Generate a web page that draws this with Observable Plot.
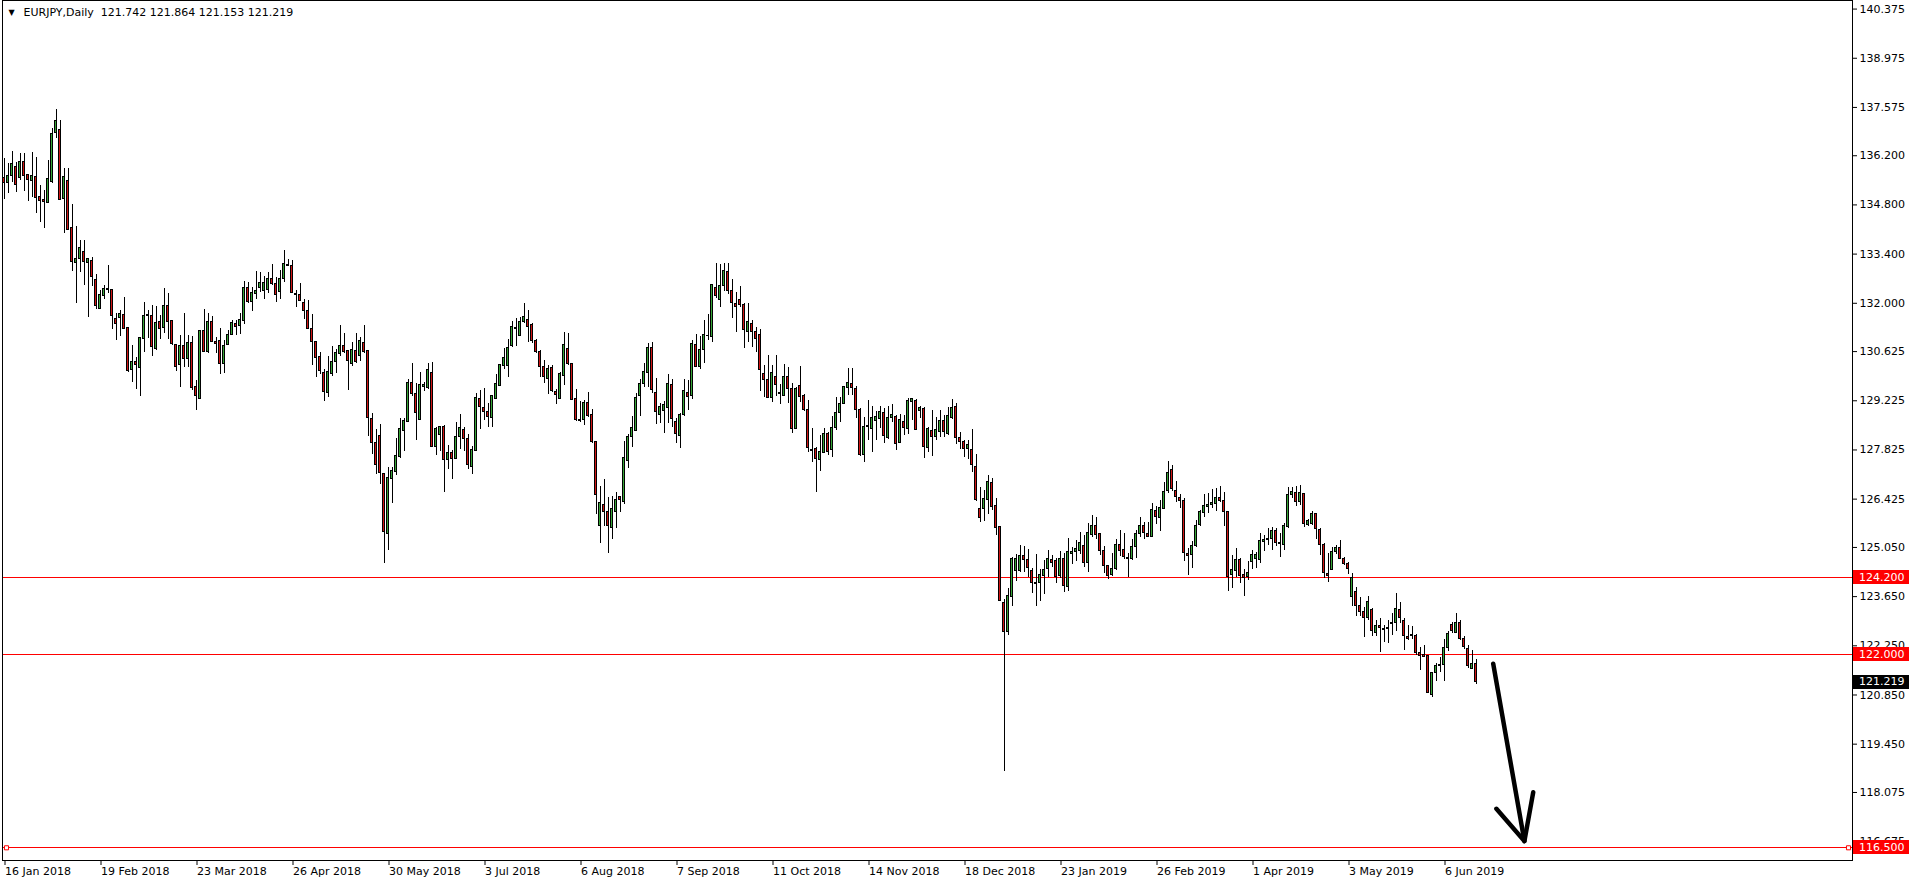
<!DOCTYPE html>
<html><head><meta charset="utf-8">
<script src="https://cdn.jsdelivr.net/npm/d3@7"></script>
<script src="https://cdn.jsdelivr.net/npm/@observablehq/plot@0.6"></script>
<style>html,body{margin:0;padding:0;background:#fff;overflow:hidden}svg{display:block}</style>
</head><body><div id="chart"></div>
<script>
const symbol = "EURJPY", period = "Daily";
const opens = [135.57,135.43,135.63,135.89,135.57,136.01,135.64,135.48,135.60,135.03,134.93,134.85,135.45,136.85,136.94,134.97,135.47,134.13,133.14,133.26,133.47,133.14,133.21,132.67,131.83,132.21,132.38,132.38,131.56,131.58,131.67,131.31,130.11,130.33,130.16,130.99,131.63,131.64,130.69,131.47,131.30,131.93,131.49,130.82,130.25,130.79,130.42,130.87,129.63,129.28,131.22,130.61,131.48,130.91,130.94,130.27,130.82,131.10,131.41,131.35,131.50,132.44,132.05,132.27,132.44,132.36,132.38,132.70,132.55,132.31,132.68,133.09,133.07,132.27,132.24,132.02,131.77,131.26,130.91,130.46,130.02,129.44,129.98,130.33,130.56,130.77,130.64,130.27,130.64,130.50,130.87,130.63,128.71,128.01,128.23,127.14,125.44,127.00,127.20,127.62,128.36,128.62,129.74,129.42,128.69,129.62,129.59,130.02,127.92,128.26,128.48,127.54,127.74,127.56,128.19,128.40,128.14,127.35,127.80,129.28,129.02,128.91,128.74,129.27,129.65,130.22,130.22,130.78,131.28,131.07,131.46,131.53,131.39,130.93,130.62,130.18,129.84,130.16,129.48,129.28,129.93,130.70,130.26,129.28,128.69,128.67,129.17,128.83,128.04,125.66,126.26,126.06,125.61,126.05,126.49,126.35,127.51,128.20,128.37,129.37,129.69,130.01,130.73,129.45,128.83,128.93,129.02,129.68,128.63,128.23,128.82,129.45,129.37,130.82,130.18,130.67,131.07,131.04,132.44,132.10,132.48,132.90,132.35,131.97,132.10,131.94,131.17,131.42,131.17,131.10,129.99,129.82,129.30,129.91,129.42,129.37,129.91,129.56,128.43,129.65,129.35,128.97,127.83,127.86,127.54,127.75,128.28,127.81,128.44,128.88,129.14,129.59,129.71,129.56,128.97,127.69,128.47,128.43,128.65,128.71,128.88,128.16,128.74,128.76,128.03,128.62,128.43,129.19,129.22,128.94,129.00,127.88,128.37,128.18,128.34,128.65,128.28,128.73,129.06,128.17,128.04,127.86,127.81,127.35,126.15,126.15,126.40,126.89,126.24,125.62,123.47,122.64,123.63,124.39,124.37,124.82,124.68,124.39,124.05,124.04,124.24,124.43,124.68,124.65,124.25,124.73,123.92,124.87,124.92,124.94,125.10,124.60,125.41,125.65,125.42,124.95,124.51,124.26,124.45,125.11,124.99,124.74,124.71,125.06,125.42,125.67,125.42,125.36,126.10,125.89,126.14,126.65,127.26,126.67,126.47,126.38,124.86,124.84,125.08,125.68,126.04,126.20,126.26,126.30,126.47,126.38,126.07,124.27,124.39,124.68,124.27,124.20,124.63,124.71,124.68,125.20,125.25,125.29,125.52,125.17,125.13,125.63,126.53,126.61,126.34,126.56,125.68,125.71,125.99,125.56,125.12,124.28,124.41,124.91,125.02,124.73,124.58,123.63,123.79,123.37,123.20,123.04,123.28,122.61,122.82,122.70,122.73,122.88,122.90,123.27,122.96,122.49,122.53,122.53,122.05,121.98,121.95,120.85,121.48,121.67,121.71,122.18,122.83,122.62,122.91,122.45,122.16,121.59,121.742];
const highs = [136.11,135.97,136.32,136.02,136.25,136.25,135.67,136.29,136.14,135.34,135.21,136.06,136.97,137.52,137.20,135.83,135.83,134.81,134.19,133.79,133.78,133.27,133.29,132.82,132.36,132.51,133.07,132.38,131.70,131.79,132.17,131.31,130.80,130.47,131.02,132.03,131.79,131.94,131.91,131.66,132.41,132.29,131.51,130.84,131.08,131.70,131.07,131.05,129.80,131.22,131.81,131.70,131.63,131.02,131.29,130.94,131.22,131.51,131.51,131.70,132.62,132.60,132.46,132.90,132.88,132.76,132.88,133.10,132.73,132.93,133.50,133.26,133.22,132.36,132.55,132.12,132.08,131.68,130.91,130.59,130.11,130.48,130.77,130.68,131.37,131.13,130.67,130.89,131.13,131.02,131.37,130.66,128.87,128.40,128.54,127.14,127.32,127.32,128.14,128.71,128.71,129.82,130.28,129.71,130.04,129.75,130.28,130.32,128.47,128.49,128.51,127.95,127.81,128.60,128.83,128.45,128.26,127.92,129.44,129.52,129.58,129.14,129.37,129.97,130.25,130.72,130.96,131.49,131.56,131.59,131.98,131.79,131.42,130.96,130.67,130.37,130.23,130.23,129.54,130.04,131.17,131.13,130.28,129.55,129.21,129.22,129.45,128.99,128.04,126.78,126.98,126.48,126.50,126.62,126.51,128.07,128.26,128.78,129.42,129.83,130.28,130.86,130.88,129.85,129.16,129.20,129.97,129.84,128.71,128.87,129.82,129.80,130.94,131.11,131.05,131.51,131.68,132.53,133.12,133.10,133.12,133.12,132.67,132.32,132.48,132.00,132.00,131.51,131.30,131.24,130.23,130.51,130.22,130.51,129.69,130.26,130.18,129.73,129.61,130.20,129.40,129.23,128.43,127.90,128.24,128.43,128.33,128.78,129.31,129.33,129.63,130.14,130.14,129.64,129.01,128.76,129.23,129.06,128.92,129.07,129.00,129.06,129.12,128.81,128.82,128.81,129.28,129.28,129.25,129.07,129.02,128.47,128.95,128.76,128.95,128.81,129.04,129.26,129.16,128.33,128.09,128.09,128.40,127.69,126.77,126.67,127.10,127.00,126.43,125.65,123.56,123.87,124.77,124.85,125.11,125.08,124.99,124.44,124.85,124.42,124.68,124.96,124.82,124.73,124.94,124.87,125.30,125.06,125.25,125.48,125.39,125.74,125.96,125.91,125.46,125.08,124.54,124.87,125.27,125.53,125.46,124.87,125.27,125.53,125.91,125.77,125.77,126.29,126.22,126.39,126.91,127.50,127.38,126.93,126.56,126.45,125.01,125.22,125.82,126.10,126.56,126.58,126.70,126.72,126.79,126.62,126.08,124.82,125.01,124.73,124.41,124.65,124.96,124.91,125.46,125.38,125.58,125.61,125.58,125.44,125.74,126.77,126.76,126.79,126.81,126.59,125.84,126.08,126.03,125.60,125.15,124.87,125.06,125.10,125.25,124.77,124.63,124.30,123.92,123.62,123.33,123.64,123.32,122.97,123.02,122.83,122.97,123.16,123.73,123.49,123.02,122.83,122.80,122.57,122.21,122.26,121.97,121.50,121.74,121.93,122.42,122.67,122.92,123.18,122.97,122.51,122.26,122.12,121.864];
const lows = [134.95,135.13,135.45,135.16,135.49,135.19,134.91,135.02,134.55,134.31,134.12,134.83,135.42,136.68,134.93,133.98,134.07,132.91,131.98,132.88,132.51,131.60,132.48,131.83,131.81,132.12,132.27,131.26,130.94,131.06,131.27,130.04,129.75,129.55,129.35,130.60,130.99,130.49,130.66,130.97,131.15,130.96,130.80,130.07,129.59,130.18,130.18,129.53,128.95,129.28,130.59,130.58,130.87,130.58,129.96,129.99,130.79,131.07,131.08,131.10,131.41,132.00,131.77,132.11,132.32,132.10,132.29,132.51,132.03,132.10,132.60,133.05,132.27,131.87,132.06,131.55,131.24,130.23,129.90,129.96,129.21,129.31,129.92,129.99,130.49,130.58,129.52,130.20,130.30,130.35,130.58,128.21,127.70,127.13,126.84,124.60,124.96,126.31,127.10,127.57,127.79,128.61,129.35,128.09,128.66,129.50,129.54,127.90,127.67,127.79,126.62,127.26,126.97,127.54,127.83,127.79,127.26,127.13,127.78,128.41,128.66,128.47,128.47,129.25,129.63,130.11,129.90,130.73,130.78,131.05,131.42,130.89,130.86,130.58,129.88,129.71,129.39,129.47,129.11,129.25,129.65,130.23,129.23,128.64,128.62,128.52,128.76,128.02,126.00,125.15,125.65,124.89,125.27,125.58,126.05,126.27,127.31,127.90,128.35,128.78,129.61,129.59,129.42,128.54,128.57,128.30,128.59,128.47,128.00,127.86,128.79,128.95,129.25,130.16,130.11,130.29,130.94,130.89,132.15,131.89,132.34,132.25,131.58,131.18,131.89,130.70,130.89,130.73,130.59,129.50,129.33,129.28,129.19,129.36,129.11,129.35,129.16,128.30,128.43,129.19,128.93,127.76,127.48,126.62,127.22,127.71,127.67,127.60,128.38,128.62,129.12,129.37,129.37,128.73,127.65,127.48,128.09,127.76,128.09,128.43,128.00,128.12,128.62,127.81,128.00,128.24,128.26,128.66,128.38,128.71,127.59,127.76,127.64,128.08,128.17,128.19,128.25,128.69,127.98,127.84,127.62,127.54,127.19,126.37,125.77,125.80,125.99,126.10,125.39,123.53,118.68,122.55,123.37,124.09,124.35,124.35,124.20,123.75,123.38,123.52,123.71,124.20,124.49,124.03,124.18,123.78,123.81,124.56,124.65,124.85,124.49,124.35,125.34,125.27,124.81,124.32,124.15,124.23,124.39,124.79,124.72,124.20,124.68,124.73,125.34,125.29,125.32,125.34,125.70,125.51,126.12,126.59,126.65,126.34,126.15,124.66,124.25,124.44,125.04,125.65,125.91,126.03,126.15,126.08,126.32,125.65,123.80,123.87,124.20,124.01,123.64,124.11,124.43,124.44,124.60,124.94,125.11,124.96,125.08,124.77,124.96,125.60,126.43,126.22,126.24,125.63,125.65,125.67,125.27,124.82,124.18,124.06,124.39,124.85,124.70,124.54,124.27,123.37,123.08,123.08,122.48,122.97,122.52,122.51,122.07,122.35,122.31,122.54,122.67,122.88,122.12,122.40,122.43,121.97,121.55,121.93,120.88,120.77,121.24,121.50,121.24,122.10,122.61,122.59,122.40,122.14,121.59,121.57,121.153];
const closes = [135.43,135.61,135.97,135.37,136.03,135.63,135.51,135.63,134.99,134.91,134.89,135.54,136.82,137.19,134.95,135.60,134.09,133.17,133.27,133.56,133.18,133.25,132.75,131.92,132.24,132.41,132.41,131.64,131.41,131.70,131.27,130.07,130.33,130.25,131.02,131.64,131.67,130.75,131.45,131.27,131.93,131.47,130.84,130.18,130.79,130.42,130.87,129.59,129.37,131.22,130.61,131.48,130.90,130.84,130.27,130.79,131.10,131.45,131.32,131.53,132.44,132.05,132.30,132.36,132.58,132.58,132.70,132.55,132.24,132.69,133.12,133.06,132.29,132.25,132.07,131.79,131.28,130.90,130.45,130.08,129.47,130.04,130.34,130.58,130.77,130.60,130.35,130.66,130.32,130.94,130.60,128.73,128.03,127.40,127.17,125.48,127.03,127.24,127.66,128.43,128.66,129.74,129.42,128.88,129.68,129.66,130.11,127.92,128.43,128.48,127.54,127.74,127.56,128.20,128.45,128.13,127.40,127.83,129.31,129.04,128.90,128.76,129.37,129.70,130.23,130.43,130.73,131.32,131.30,131.48,131.61,131.32,130.93,130.61,130.18,129.90,130.14,129.51,129.39,129.99,130.80,130.28,129.26,128.68,128.64,129.17,128.79,128.06,126.55,126.32,126.05,125.65,126.15,126.41,126.41,127.60,128.20,128.45,129.31,129.71,130.03,130.73,129.54,128.90,129.06,129.11,129.71,128.71,128.28,128.82,129.51,129.33,130.85,130.20,130.67,131.10,131.08,132.51,132.20,132.50,132.92,132.34,132.01,131.89,131.96,131.24,131.48,131.18,130.98,130.11,129.82,129.30,130.02,129.67,129.44,129.91,129.56,128.43,129.56,129.34,128.97,127.88,127.79,127.57,127.77,128.28,127.77,128.45,128.88,129.14,129.63,129.74,129.58,128.97,127.69,128.49,128.51,128.74,128.77,128.91,128.23,128.74,128.81,128.00,128.68,128.45,129.23,129.27,128.40,129.02,127.90,128.41,128.20,128.40,128.65,128.34,128.78,129.02,128.17,128.04,127.86,127.98,127.40,126.39,125.88,126.43,126.92,126.20,125.61,123.53,122.64,123.67,124.73,124.71,124.82,124.70,124.47,124.03,124.01,124.27,124.41,124.73,124.60,124.20,124.73,123.95,124.92,124.91,125.01,125.19,124.60,125.45,125.67,125.41,124.94,124.52,124.24,124.44,125.13,124.96,124.77,124.72,125.07,125.42,125.67,125.46,125.36,126.12,125.91,126.18,126.64,127.18,126.71,126.48,126.37,124.90,124.82,125.10,125.67,126.07,126.23,126.25,126.32,126.47,126.36,126.05,124.20,124.41,124.68,124.25,124.19,124.33,124.84,124.84,125.24,125.27,125.29,125.52,125.17,125.16,125.67,126.55,126.64,126.35,126.59,125.72,125.79,126.01,125.58,125.12,124.32,124.23,124.93,125.02,124.73,124.58,124.43,124.18,123.38,123.21,123.04,123.51,122.67,122.80,122.76,122.73,122.76,122.90,123.30,123.05,122.52,122.43,122.57,122.04,121.95,121.94,120.90,121.48,121.68,121.70,122.20,122.60,122.67,122.91,122.44,122.23,121.67,121.74,121.219];

const tickBars = [0,24,48,72,96,120,144,168,192,216,240,264,288,312,336,360];
const tickLabels = ["16 Jan 2018","19 Feb 2018","23 Mar 2018","26 Apr 2018","30 May 2018","3 Jul 2018","6 Aug 2018","7 Sep 2018","11 Oct 2018","14 Nov 2018","18 Dec 2018","23 Jan 2019","26 Feb 2019","1 Apr 2019","3 May 2019","6 Jun 2019"];
const priceTicks = [140.375,138.975,137.575,136.200,134.800,133.400,132.000,130.625,129.225,127.825,126.425,125.050,123.650,122.250,120.850,119.450,118.075,116.675];
const levels = [124.200, 122.000, 116.500];
const arrowShaft = [{i: 372.3, p: 121.74}, {i: 380.1, p: 116.69}];
const arrowHead = [{i: 373.1, p: 117.61}, {i: 380.1, p: 116.69}, {i: 382.3, p: 118.08}];

const GREEN = "#37a537", RED = "#d01515", LEVEL = "#ff0000";
const data = opens.map((o, i) => ({i, o, h: highs[i], l: lows[i], c: closes[i]}));
const bulls = data.filter(d => d.c >= d.o), bears = data.filter(d => d.c < d.o);
const last = data[data.length - 1];
const f3 = d3.format(".3f");
const header = `${symbol},${period}  ${f3(last.o)} ${f3(last.h)} ${f3(last.l)} ${f3(last.c)}`;
const FONT = "DejaVu Sans";

const bodyOpts = {x1: d => d.i - 0.375, x2: d => d.i + 0.375, y1: "o", y2: "c", shapeRendering: "crispEdges"};

const chart = Plot.plot({
  width: 1916, height: 884,
  marginTop: 0, marginRight: 64, marginBottom: 24, marginLeft: 2,
  style: {background: "white", fontFamily: FONT, fontSize: "11px", color: "black"},
  x: {domain: [-0.375, 462.125]},
  y: {domain: [116.1385, 140.619]},
  marks: [
    Plot.axisX({ticks: tickBars, tickFormat: d => tickLabels[tickBars.indexOf(d)], tickSize: 5, tickPadding: 2, textAnchor: "start", dx: 1, label: null, fontSize: 11, fontFamily: FONT}),
    Plot.axisY({anchor: "right", ticks: priceTicks, tickFormat: f3, tickSize: 4, tickPadding: 3, label: null, fontSize: 11, fontFamily: FONT}),
    Plot.ruleY(levels, {y: d => d, stroke: LEVEL, strokeWidth: 1, shapeRendering: "crispEdges"}),
    Plot.dot([levels[2]], {y: d => d, frameAnchor: "left", dx: 4, symbol: "square", r: 2.3, stroke: LEVEL, fill: "white", strokeWidth: 1}),
    Plot.dot([levels[2]], {y: d => d, frameAnchor: "right", dx: -4, symbol: "square", r: 2.3, stroke: LEVEL, fill: "white", strokeWidth: 1}),
    Plot.ruleX(data, {x: "i", y1: "l", y2: "h", stroke: "black", strokeWidth: 1, shapeRendering: "crispEdges"}),
    Plot.rect(data, {...bodyOpts, fill: "black", insetTop: -0.5, insetBottom: -0.5}),
    Plot.rect(bulls, {...bodyOpts, fill: GREEN, insetLeft: 1, insetRight: 1, insetTop: 0.5, insetBottom: 0.5}),
    Plot.rect(bears, {...bodyOpts, fill: RED, insetLeft: 1, insetRight: 1, insetTop: 0.5, insetBottom: 0.5}),
    Plot.line(arrowShaft, {x: "i", y: "p", stroke: "black", strokeWidth: 4.5, strokeLinecap: "round"}),
    Plot.line(arrowHead, {x: "i", y: "p", stroke: "black", strokeWidth: 4.5, strokeLinecap: "round", strokeLinejoin: "round"}),
    Plot.text(["\u25BC"], {frameAnchor: "top-left", dx: 6, dy: 12, textAnchor: "start", lineAnchor: "middle", fontSize: 8, fill: "black"}),
    Plot.text([header], {frameAnchor: "top-left", dx: 21, dy: 12, textAnchor: "start", lineAnchor: "middle", fontSize: 11, fontFamily: FONT, fill: "black"}),
    Plot.frame({stroke: "black"})
  ]
});
document.getElementById("chart").appendChild(chart);

// price label boxes on the right axis, positioned through Plot's own y scale
const ys = chart.scale("y");
const svg = d3.select(chart);
const boxX = 1916 - 64 + 1;
const boxes = levels.map(v => ({v, bg: LEVEL})).concat([{v: last.c, bg: "black"}]);
const g = svg.append("g").attr("text-anchor", "start");
boxes.forEach(b => {
  const yy = ys.apply(b.v);
  g.append("rect").attr("x", boxX).attr("y", Math.round(yy) - 7).attr("width", 56).attr("height", 14).attr("fill", b.bg);
  g.append("text").attr("x", boxX + 6).attr("y", yy).attr("dy", "0.35em").attr("fill", "white")
    .attr("text-anchor", "start").attr("font-family", FONT).attr("font-size", 11).text(f3(b.v));
});
</script></body></html>
